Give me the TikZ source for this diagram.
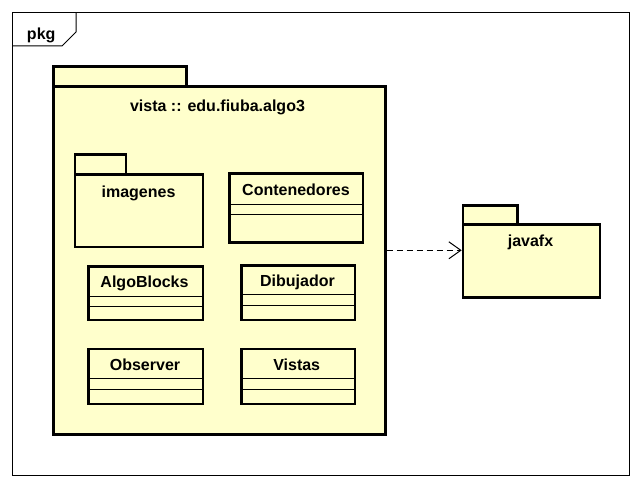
\documentclass[tikz,border=0pt]{standalone}
\usepackage{fontspec}
\setmainfont{Liberation Sans}
\usetikzlibrary{arrows.meta}
\definecolor{pkgfill}{RGB}{255,255,204}
\begin{document}
\begin{tikzpicture}[x=1bp,y=-1bp,
  box/.style={draw=black, fill=pkgfill, line width=2.6bp, inner sep=0pt, rectangle},
  lbl/.style={anchor=base, inner sep=0pt, font=\fontsize{16bp}{19bp}\selectfont\bfseries},
  comp/.style={line width=1bp},
  dep/.style={line width=1bp, dash pattern=on 6bp off 4bp, -{Straight Barb[length=12bp,width=17bp,line width=1bp]}}
]
\useasboundingbox (0,0) rectangle (642,488);
% frame
\node[draw=black, line width=1bp, minimum width=616.5bp, minimum height=462bp, inner sep=0pt] (frame) at (321.25,244) {};
\coordinate (ft1) at (13,46);
\coordinate (ft2) at (62,46);
\coordinate (ft3) at (76,32);
\coordinate (ft4) at (76,13);
\draw[line width=1bp] (ft1) -- (ft2) -- (ft3) -- (ft4);
\node[lbl] (pkglbl) at (41.2,39.3) {pkg};

% vista package
\node[box, minimum width=132.8bp, minimum height=20bp] (vistatab) at (119.9,76.5) {};
\node[box, minimum width=331.7bp, minimum height=347.7bp] (vista) at (219.35,260.35) {};
\node[lbl] (vistalbl) at (217.5,112) {vista :: edu.fiuba.algo3};

% imagenes package
\node[box, minimum width=51.2bp, minimum height=20bp] (imgtab) at (100.4,164.8) {};
\node[box, minimum width=128bp, minimum height=72bp] (img) at (138.8,210.8) {};
\node[lbl] (imglbl) at (138.5,197.3) {imagenes};

% classes
\node[box, minimum width=133.5bp, minimum height=68.8bp] (cont) at (296.25,208.1) {};
\draw[comp] (cont.west |- 0,204.3) -- (cont.east |- 0,204.3);
\draw[comp] (cont.west |- 0,214.3) -- (cont.east |- 0,214.3);
\node[lbl] (contlbl) at (296,196) {Contenedores};

\node[box, minimum width=114.5bp, minimum height=53.7bp] (algo) at (145.75,293.15) {};
\draw[comp] (algo.west |- 0,296.7) -- (algo.east |- 0,296.7);
\draw[comp] (algo.west |- 0,306.7) -- (algo.east |- 0,306.7);
\node[lbl] (algolbl) at (144.5,287.7) {AlgoBlocks};

\node[box, minimum width=113.7bp, minimum height=54.7bp] (dib) at (298.15,292.65) {};
\draw[comp] (dib.west |- 0,294.3) -- (dib.east |- 0,294.3);
\draw[comp] (dib.west |- 0,305.7) -- (dib.east |- 0,305.7);
\node[lbl] (diblbl) at (297.5,286.7) {Dibujador};

\node[box, minimum width=114.3bp, minimum height=55bp] (obs) at (145.85,376.5) {};
\draw[comp] (obs.west |- 0,378.3) -- (obs.east |- 0,378.3);
\draw[comp] (obs.west |- 0,389.3) -- (obs.east |- 0,389.3);
\node[lbl] (obslbl) at (145,370.7) {Observer};

\node[box, minimum width=113.7bp, minimum height=55bp] (vis) at (298.15,376.5) {};
\draw[comp] (vis.west |- 0,378.3) -- (vis.east |- 0,378.3);
\draw[comp] (vis.west |- 0,389.3) -- (vis.east |- 0,389.3);
\node[lbl] (vislbl) at (296.7,370.7) {Vistas};

% javafx package
\node[box, minimum width=54.3bp, minimum height=19.4bp] (jfxtab) at (490.15,215) {};
\node[box, minimum width=137bp, minimum height=72.6bp] (jfx) at (531.5,261) {};
\node[lbl] (jfxlbl) at (530.5,246.7) {javafx};

% dependency
\draw[dep] (vista.east |- 0,250.3) -- (jfx.west |- 0,250.3);
\end{tikzpicture}
\end{document}
